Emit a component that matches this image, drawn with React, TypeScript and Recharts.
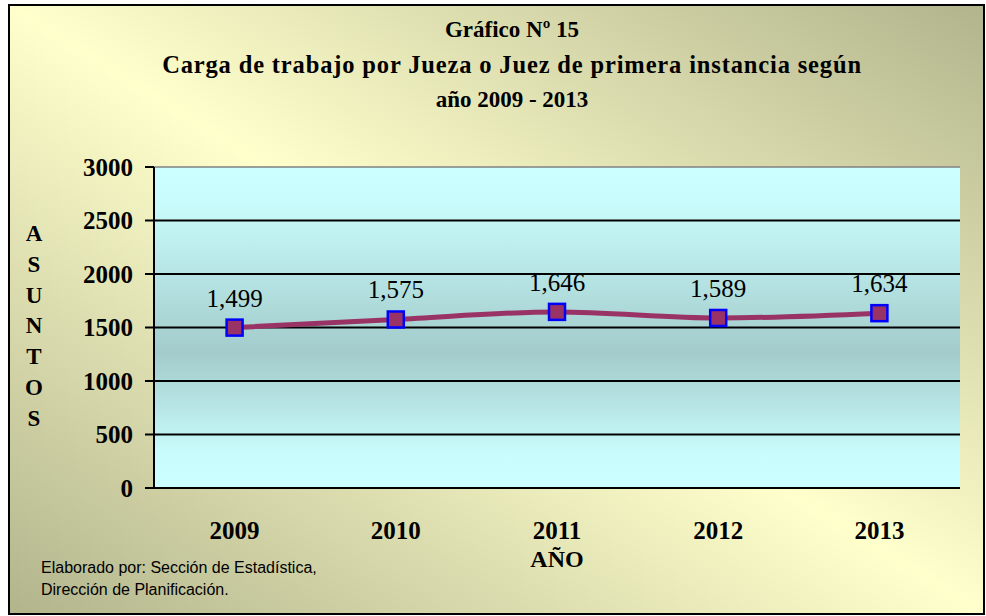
import { LineChart, Line, XAxis, YAxis, CartesianGrid, ReferenceLine, LabelList } from 'recharts';

const years = ['2009', '2010', '2011', '2012', '2013'];
const asuntos = [1499, 1575, 1646, 1589, 1634];
const yTicks = [0, 500, 1000, 1500, 2000, 2500, 3000];
const gridValues = [500, 1000, 1500, 2000, 2500];
const edgeTicks = [0, 1, 2, 3, 4, 5];
const titleLines = ['Gráfico Nº 15', 'Carga de trabajo por Jueza o Juez de primera instancia según', 'año 2009 - 2013'];
const yLabel = 'ASUNTOS';
const xLabel = 'AÑO';
const footnote = ['Elaborado por: Sección de Estadística,', 'Dirección de Planificación.'];

const data = years.map((year, i) => ({ year, asuntos: asuntos[i] }));

const serif = '"Liberation Serif", "Times New Roman", serif';

const SquareDot = (props: any) => {
  const { cx, cy, index } = props;
  if (cx == null || cy == null) return null;
  return (
    <rect key={`dot-${index}`} x={cx - 8} y={cy - 8} width={16} height={16}
      fill="#993366" stroke="#0000ff" strokeWidth={2.5} />
  );
};

export default function App() {
  return (
    <div style={{ position: 'absolute', left: 0, top: 0, width: 986, height: 616, overflow: 'hidden' }}>
      <div style={{
        position: 'absolute', left: 8, top: 4, width: 977, height: 611, boxSizing: 'border-box',
        border: '2.5px solid #000',
        background: 'linear-gradient(to top right, #b2b48c 0%, #ffffcc 50%, #b2b48c 100%)'
      }} />
      <div style={{ position: 'absolute', left: 0, top: 0 }}>
        <LineChart width={986} height={616} data={data} margin={{ top: 167, right: 26, bottom: 68, left: 0 }}>
          <defs>
            <linearGradient id="plotGrad" x1="0" y1="0" x2="0" y2="1">
              <stop offset="0%" stopColor="#ccffff" />
              <stop offset="12%" stopColor="#c8fbfb" />
              <stop offset="58%" stopColor="#a3cbcb" />
              <stop offset="88%" stopColor="#c8fbfb" />
              <stop offset="100%" stopColor="#ccffff" />
            </linearGradient>
          </defs>
          <CartesianGrid vertical={false} horizontalValues={gridValues} stroke="#000" strokeWidth={2}
            fill="url(#plotGrad)" fillOpacity={1} />
          <XAxis xAxisId="edges" type="number" domain={[0, 5]} ticks={edgeTicks} tick={false}
            tickLine={{ stroke: '#000', strokeWidth: 2 }} tickSize={8} axisLine={false} height={0} allowDataOverflow />
          <XAxis dataKey="year" scale="band" interval={0} tickLine={false} tickSize={6} tickMargin={27} height={60}
            axisLine={{ stroke: '#000', strokeWidth: 2 }}
            tick={{ fontFamily: serif, fontSize: 25, fontWeight: 'bold', fill: '#000' }} />
          <YAxis domain={[0, 3000]} ticks={yTicks} interval={0} width={154} tickSize={9} tickMargin={12}
            axisLine={{ stroke: '#000', strokeWidth: 2 }} tickLine={{ stroke: '#000', strokeWidth: 2 }}
            tick={{ fontFamily: serif, fontSize: 25, fontWeight: 'bold', fill: '#000' }} />
          <ReferenceLine y={3000} stroke="#808080" strokeWidth={1.5} />
          <ReferenceLine x={5} xAxisId="edges" stroke="#808080" strokeWidth={1.5} />
          <Line dataKey="asuntos" type="monotone" stroke="#993366" strokeWidth={5} dot={SquareDot}
            activeDot={false} isAnimationActive={false}>
            <LabelList dataKey="asuntos" position="top" offset={21}
              formatter={(v: any) => Number(v).toLocaleString('en-US')}
              style={{ fontFamily: serif, fontSize: 25, fill: '#000' }} />
          </Line>
        </LineChart>
      </div>
      <div style={{
        position: 'absolute', left: 40, width: 944, top: 12, textAlign: 'center',
        fontFamily: serif, fontWeight: 'bold', fontSize: 23, lineHeight: '35px', color: '#000'
      }}>
        {titleLines.map((t, i) => (
          <div key={t} style={i === 1 ? { fontSize: 24.5, letterSpacing: '0.85px' } : undefined}>{t}</div>
        ))}
      </div>
      <div style={{
        position: 'absolute', left: 19, width: 30, top: 219, textAlign: 'center',
        fontFamily: serif, fontWeight: 'bold', fontSize: 23, lineHeight: '30.8px', color: '#000'
      }}>
        {yLabel.split('').map((c, i) => <div key={i}>{c}</div>)}
      </div>
      <div style={{
        position: 'absolute', left: 457, width: 200, top: 547, textAlign: 'center',
        fontFamily: serif, fontWeight: 'bold', fontSize: 24, lineHeight: '24px', color: '#000'
      }}>
        {xLabel}
      </div>
      <div style={{
        position: 'absolute', left: 41, top: 557, fontFamily: '"Liberation Sans", Arial, sans-serif',
        fontSize: 16, lineHeight: '22px', color: '#000'
      }}>
        {footnote.map((t) => <div key={t}>{t}</div>)}
      </div>
    </div>
  );
}
